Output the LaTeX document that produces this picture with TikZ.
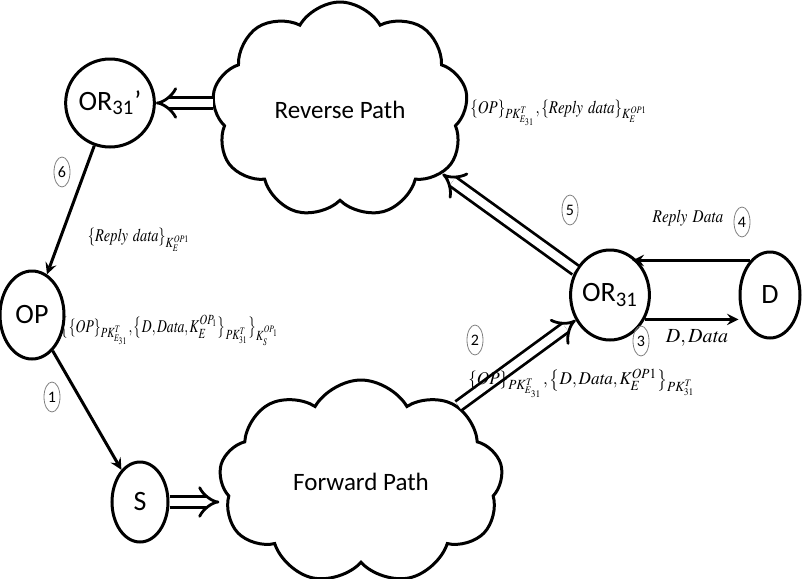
\documentclass[tikz,border=0pt]{standalone}
\usepackage{amsmath, mathptmx}
\usepackage{fontspec}
\setsansfont{Carlito}
\usetikzlibrary{shapes.geometric, shapes.symbols, arrows.meta}
\tikzset{>=stealth}
\tikzset{
  party/.style={ellipse, draw, line width=1.5pt, minimum width=32pt, minimum height=44pt, inner sep=0pt, font=\sffamily\fontsize{14}{14}\selectfont},
  netcloud/.style={cloud, draw, line width=1.5pt, cloud puffs=9, cloud puff arc=120, cloud ignores aspect, inner sep=0pt, font=\sffamily\fontsize{12.5}{12.5}\selectfont},
  hollow/.style={double, double distance=4pt, line width=1.4pt, -{Implies}},
  msg/.style={line width=1.5pt, ->},
  stepno/.style={ellipse, draw=gray, thin, minimum width=8pt, minimum height=15pt, inner sep=0pt, font=\sffamily\fontsize{8}{8}\selectfont},
  keylabel/.style={inner sep=0pt, font=\fontsize{9}{10}\selectfont}
}

\begin{document}
\begin{tikzpicture}[x=0.5pt, y=-0.5pt]
    \useasboundingbox (0,0) rectangle (805,579);
    % clouds
    \node[netcloud, minimum width=128pt, minimum height=108pt] (rev) at (340,110) {Reverse Path};
    \node[netcloud, minimum width=142pt, minimum height=102pt] (fwd) at (361,482) {Forward Path};
    % parties
    \node[party] (or31p) at (110,103) {OR\textsubscript{31}’};
    \node[party] (op) at (32,315) {OP};
    \node[party, minimum width=28pt, minimum height=40pt] (s) at (140,502) {S};
    \node[party, minimum width=33pt, minimum height=45pt] (or31) at (610,295) {OR\textsubscript{31}};
    \node[party, minimum width=30pt, minimum height=43pt] (d) at (770,295) {D};
    % hops
    \draw[msg] (or31p) -- (op);
    \draw[msg] (op) -- (s);
    \draw[hollow] (s.east) -- (s.east -| fwd.west);
    \draw[hollow] (fwd.38) -- (or31);
    \draw[msg] (or31.-35) -- (or31.-35 -| d.west);
    \draw[msg] (d.120) -- (d.120 -| or31.60);
    \draw[hollow] (or31) -- (rev.-32);
    \draw[hollow] (rev.west |- or31p.east) -- (or31p.east);
    % step numbers
    \node[stepno] (n1) at (52,397) {1};
    \node[stepno] (n2) at (475,340) {2};
    \node[stepno] (n3) at (641,341) {3};
    \node[stepno] (n4) at (742,222) {4};
    \node[stepno] (n5) at (570,210) {5};
    \node[stepno] (n6) at (62,172) {6};
    % keys
    \node[keylabel] (k1) at (170,330) {\scalebox{0.76}[1]{$\bigl\{\{OP\}_{PK^T_{E_{31}}},\bigl\{D,\mathit{Data},K_E^{OP_1}\bigr\}_{PK^T_{31}}\bigr\}_{K_S^{OP_1}}$}};
    \node[keylabel, anchor=west] (k2) at (468,383) {\scalebox{0.95}[1]{$\{OP\}_{PK^T_{E_{31}}},\bigl\{D,\mathit{Data},K_E^{OP1}\bigr\}_{PK^T_{31}}$}};
    \node[keylabel, font=\fontsize{10}{11}\selectfont] (k3) at (697,338) {$D,\mathit{Data}$};
    \node[keylabel] (k4) at (688,218) {\scalebox{0.85}[1]{$\mathit{Reply\ Data}$}};
    \node[keylabel, anchor=west] (k5) at (470,113) {\scalebox{0.83}[1]{$\{OP\}_{PK^T_{E_{31}}},\{\mathit{Reply\ data}\}_{K_E^{OP1}}$}};
    \node[keylabel] (k6) at (139,240) {\scalebox{0.8}[1]{$\{\mathit{Reply\ data}\}_{K_E^{OP1}}$}};
\end{tikzpicture}
\end{document}
